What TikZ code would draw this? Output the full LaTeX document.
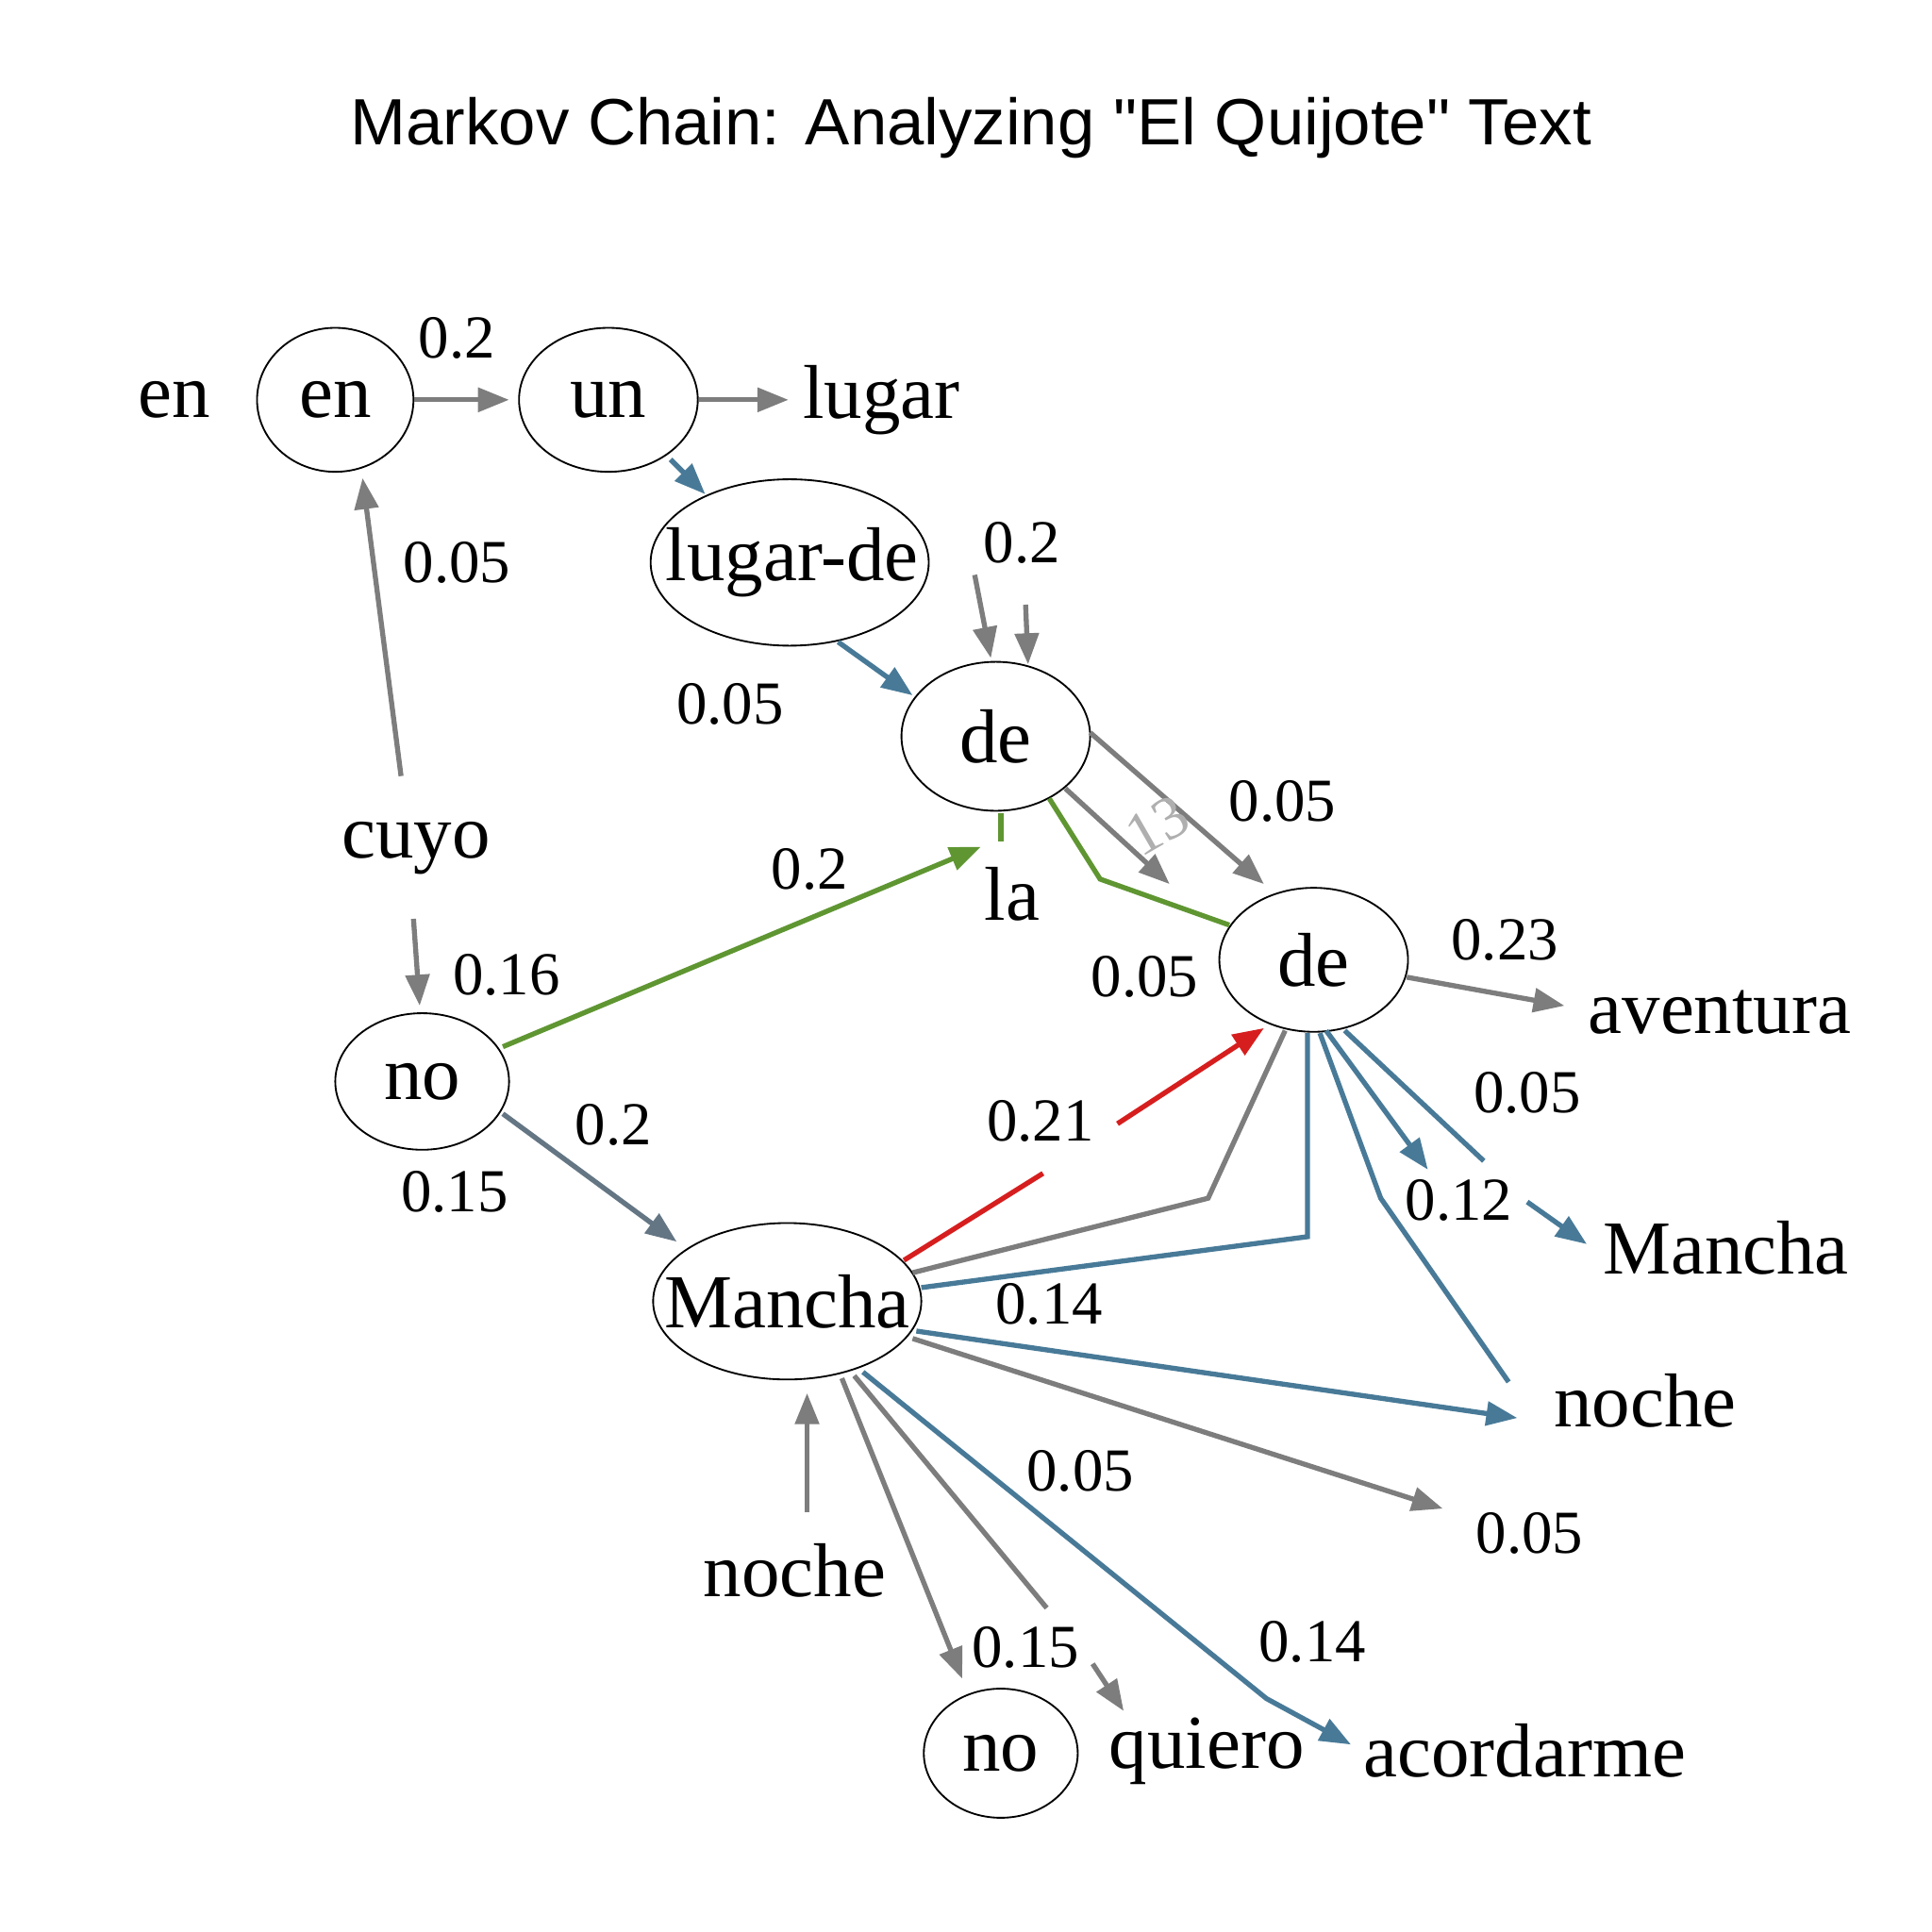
\documentclass[tikz,border=0pt]{standalone}
\usepackage{fontspec}
\setmainfont{Liberation Serif}
\newfontfamily\titlefont{Liberation Sans}
\usetikzlibrary{shapes.geometric,arrows.meta}
\definecolor{eg}{RGB}{125,125,125}
\definecolor{eb}{RGB}{72,122,152}
\definecolor{egr}{RGB}{95,150,50}
\definecolor{er}{RGB}{215,30,30}
\definecolor{es}{RGB}{100,118,132}
\definecolor{lg}{RGB}{175,175,175}
\tikzset{
 st/.style={ellipse,draw,thick,inner sep=0pt,font=\fontsize{35}{35}\selectfont},
 stx/.style={inner sep=0pt,font=\fontsize{35}{35}\selectfont},
 wd/.style={font=\fontsize{35}{35}\selectfont,inner sep=0pt},
 lb/.style={font=\fontsize{28}{28}\selectfont,inner sep=0pt},
 ed/.style={line width=2.3pt,-{Triangle[length=0.5cm,width=0.38cm]}},
 ln/.style={line width=2.3pt}
}
\begin{document}
\begin{tikzpicture}[x=0.02cm,y=-0.02cm]
\fill[white] (0,0) rectangle (1556,1556);
\useasboundingbox (0,0) rectangle (1556,1556);
\node[font=\titlefont\fontsize{30}{30}\selectfont,xscale=1.02] (title) at (782,103) {Markov Chain: Analyzing "El Quijote" Text};
% states
\node[st,minimum width=2.52cm,minimum height=2.32cm] (en) at (270,322) {en};
\node[st,minimum width=2.88cm,minimum height=2.32cm] (un) at (490,322) {un};
\node[stx] (ld) at (638,453) {lugar-de};
\draw[thick] (636,453) ellipse [x radius=112, y radius=67];
\node[st,minimum width=3.04cm,minimum height=2.4cm] (de1) at (802,593) {de};
\node[st,minimum width=3.04cm,minimum height=2.32cm] (de2) at (1058,773) {de};
\node[st,minimum width=2.8cm,minimum height=2.2cm] (no1) at (340,871) {no};
\node[stx] (man) at (634,1048) {Mancha};
\draw[thick] (634,1048) ellipse [x radius=108, y radius=63];
\node[st,minimum width=2.48cm,minimum height=2.08cm] (no2) at (806,1412) {no};
% words
\node[wd] (wen) at (140,322) {en};
\node[wd] (lugar) at (710,322) {lugar};
\node[wd] (cuyo) at (335,683) {cuyo};
\node[wd] (la) at (815,720) {la};
\node[wd] (av) at (1385,815) {aventura};
\node[wd] (man2) at (1390,1005) {Mancha};
\node[wd] (noche) at (1325,1128) {noche};
\node[lb] (w05) at (1232,1235) {0.05};
\node[wd] (noche2) at (640,1265) {noche};
\node[wd] (quiero) at (972,1410) {quiero};
\node[wd] (acor) at (1228,1410) {acordarme};
% edges
\draw[ed,eg] (en.east) -- (410,322);
\draw[ed,eg] (un.east) -- (635,322);
\draw[ed,eb] (540,370) -- (568,398);
\draw[ed,eb] (675,517) -- (735,560);
\draw[ed,eg] (323,625) -- (292,385);
\draw[ed,eg] (785,463) -- (798,530);
\draw[ed,eg] (826,487) -- (828,535);
\draw[ed,eg] (878,590) -- (1018,712);
\draw[ed,eg] (858,635) -- (942,712);
\draw[ln,egr] (990,745) -- (886,708) -- (845,643);
\draw[ln,egr] (806,655) -- (806,678);
\draw[ed,egr] (405,843) -- (790,682);
\draw[ed,eg] (333,740) -- (338,810);
\draw[ed,es] (405,897) -- (545,1000);
\draw[ln,er] (728,1015) -- (840,945);
\draw[ed,er] (900,905) -- (1018,828);
\draw[ln,eg] (735,1025) -- (973,965) -- (1035,830);
\draw[ln,eb] (742,1037) -- (1053,996) -- (1053,832);
\draw[ln,eb] (1083,830) -- (1195,935);
\draw[ed,eb] (1230,968) -- (1278,1002);
\draw[ed,eb] (1068,830) -- (1150,942);
\draw[ln,eb] (1063,832) -- (1112,965) -- (1215,1113);
\draw[ed,eg] (1133,787) -- (1260,810);
\draw[ed,eb] (738,1072) -- (1222,1142);
\draw[ed,eg] (735,1078) -- (1162,1215);
\draw[ed,eb] (695,1105) -- (1020,1368) -- (1088,1405);
\draw[ln,eg] (688,1108) -- (843,1295);
\draw[ed,eg] (880,1340) -- (905,1378);
\draw[ed,eg] (678,1110) -- (775,1352);
\draw[ed,eg] (650,1218) -- (650,1122);
% labels
\node[lb] at (368,272) {0.2};
\node[lb] at (588,567) {0.05};
\node[lb] at (368,453) {0.05};
\node[lb] at (823,437) {0.2};
\node[lb] at (1033,645) {0.05};
\node[lb,lg,rotate=30] at (932,665) {13};
\node[lb] at (652,700) {0.2};
\node[lb] at (408,785) {0.16};
\node[lb] at (494,906) {0.2};
\node[lb] at (366,960) {0.15};
\node[lb] at (838,903) {0.21};
\node[lb] at (1175,967) {0.12};
\node[lb] at (1230,880) {0.05};
\node[lb] at (1212,757) {0.23};
\node[lb] at (922,787) {0.05};
\node[lb] at (845,1050) {0.14};
\node[lb] at (870,1185) {0.05};
\node[lb] at (826,1327) {0.15};
\node[lb] at (1057,1322) {0.14};
\end{tikzpicture}
\end{document}
